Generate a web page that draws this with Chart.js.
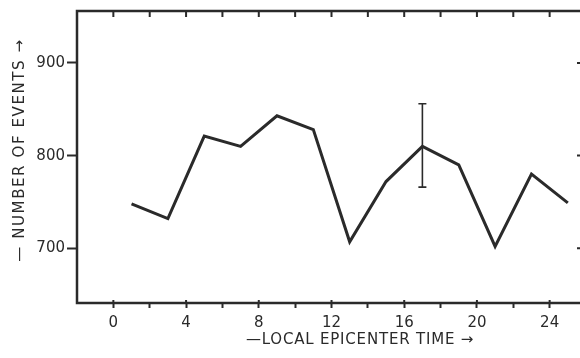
<!DOCTYPE html>
<html>
<head>
<meta charset="utf-8">
<title>Events by local epicenter time</title>
<script src="https://cdn.jsdelivr.net/npm/chart.js@4.4.1/dist/chart.umd.min.js"></script>
<style>
  html, body { margin: 0; padding: 0; background: #fff; overflow: hidden; }
  #wrap { width: 580px; height: 358px; overflow: hidden; }
  canvas { display: block; }
</style>
</head>
<body>
<div id="wrap">
  <canvas id="chart" width="590" height="358"></canvas>
</div>
<script>
// hourly bins (local epicenter time) and event counts
const hours = [1, 3, 5, 7, 9, 11, 13, 15, 17, 19, 21, 23, 25];
const events = [748, 732, 821, 810, 843, 828, 707, 772, 810, 790, 702, 780, 749];

// one error bar, at hour 17
const errHour = 17;
const errLow = 766;
const errHigh = 856;

const xTicks = [0, 2, 4, 6, 8, 10, 12, 14, 16, 18, 20, 22, 24];
const yTicks = [700, 800, 900];

const INK = '#2a2a2a';
const FONT = "'DejaVu Sans', sans-serif";

// box frame, inward ticks on top/right, error bar and the axis titles
const framePlugin = {
  id: 'frame',
  afterDraw(chart) {
    const { ctx, chartArea: a, scales } = chart;
    const x = scales.x, y = scales.y;
    ctx.save();
    ctx.strokeStyle = INK;
    ctx.lineCap = 'butt';

    ctx.lineWidth = 2.5;
    ctx.strokeRect(a.left, a.top, a.right - a.left, a.bottom - a.top);

    ctx.lineWidth = 2;
    ctx.beginPath();
    xTicks.forEach(v => {
      const px = x.getPixelForValue(v);
      ctx.moveTo(px, a.top);
      ctx.lineTo(px, a.top + 6);
      if (v % 4 === 0) {
        ctx.moveTo(px, a.bottom);
        ctx.lineTo(px, a.bottom - 3);
      }
    });
    yTicks.forEach(v => {
      const py = y.getPixelForValue(v);
      ctx.moveTo(a.right, py);
      ctx.lineTo(a.right - 9, py);
    });
    ctx.stroke();

    // error bar
    const ex = x.getPixelForValue(errHour);
    const y1 = y.getPixelForValue(errLow);
    const y2 = y.getPixelForValue(errHigh);
    ctx.lineWidth = 1.6;
    ctx.beginPath();
    ctx.moveTo(ex, y1); ctx.lineTo(ex, y2);
    ctx.moveTo(ex - 4, y1); ctx.lineTo(ex + 4, y1);
    ctx.moveTo(ex - 4, y2); ctx.lineTo(ex + 4, y2);
    ctx.stroke();

    // axis titles
    ctx.fillStyle = INK;
    ctx.font = '15px ' + FONT;
    ctx.textAlign = 'center';
    ctx.textBaseline = 'middle';
    ctx.letterSpacing = '0.8px';
    ctx.fillText('\u2014LOCAL EPICENTER TIME \u2192', 360, 340);

    ctx.letterSpacing = '1.6px';
    ctx.translate(20, 150);
    ctx.rotate(-Math.PI / 2);
    ctx.fillText('\u2014 NUMBER OF EVENTS \u2192', 0, 0);
    ctx.restore();
  }
};

new Chart(document.getElementById('chart'), {
  type: 'line',
  data: {
    datasets: [{
      data: hours.map((h, i) => ({ x: h, y: events[i] })),
      borderColor: INK,
      borderWidth: 3,
      pointRadius: 0,
      tension: 0,
      fill: false
    }]
  },
  options: {
    responsive: false,
    animation: false,
    devicePixelRatio: 1,
    layout: { padding: { top: 9, right: 4, left: 0, bottom: 0 } },
    plugins: { legend: { display: false }, tooltip: { enabled: false } },
    scales: {
      x: {
        type: 'linear',
        min: -2,
        max: 26,
        afterBuildTicks: s => { s.ticks = xTicks.map(v => ({ value: v })); },
        afterFit: s => { s.height = 55; },
        border: { display: false },
        grid: { drawOnChartArea: false, tickLength: 5, tickWidth: 2, tickColor: INK },
        ticks: {
          autoSkip: false,
          maxRotation: 0,
          padding: 6,
          color: INK,
          font: { family: FONT, size: 15 },
          callback: v => (v % 4 === 0 ? String(v) : '')
        }
      },
      y: {
        min: 641,
        max: 956,
        afterBuildTicks: s => { s.ticks = yTicks.map(v => ({ value: v })); },
        afterFit: s => { s.width = 77; },
        border: { display: false },
        grid: { drawOnChartArea: false, tickLength: 10, tickWidth: 2, tickColor: INK },
        ticks: {
          padding: 2,
          color: INK,
          font: { family: FONT, size: 15 }
        }
      }
    }
  },
  plugins: [framePlugin]
});
</script>
</body>
</html>
